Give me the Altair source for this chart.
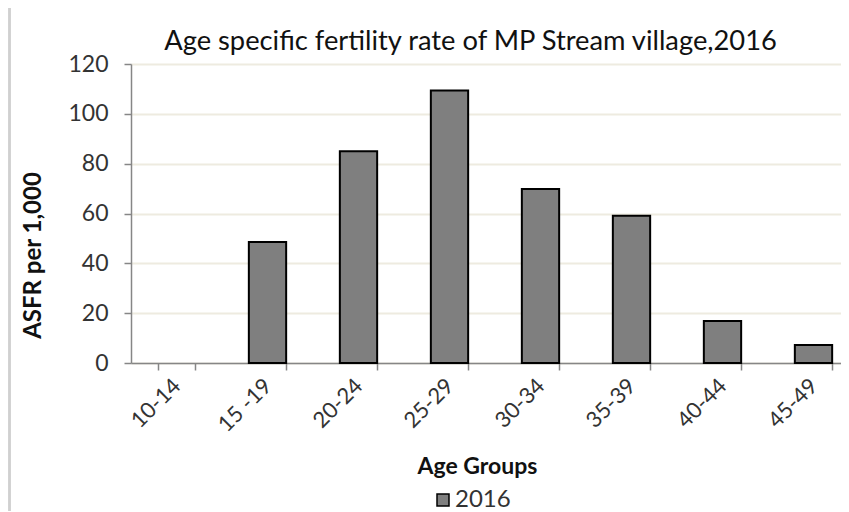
import altair as alt
import pandas as pd

age_groups = ["10-14", "15 -19", "20-24", "25-29", "30-34", "35-39", "40-44", "45-49"]
asfr = [0, 48.6, 85.0, 109.4, 69.8, 59.1, 16.9, 7.2]
series = ["2016"] * len(age_groups)
chart_title = "Age specific fertility rate of MP Stream village,2016"

df = pd.DataFrame({"age": age_groups, "asfr": asfr, "year": series})

FONT = "Lato"

bars = alt.Chart(df).transform_filter("datum.asfr > 0").mark_bar(
    stroke="black", strokeWidth=2
).encode(
    x=alt.X(
        "age:N",
        sort=age_groups,
        scale=alt.Scale(domain=age_groups, range=[0, 728], paddingInner=0.59, paddingOuter=0.295),
        axis=alt.Axis(
            title="Age Groups",
            titleFont=FONT,
            titleFontSize=23,
            titleFontWeight="bold",
            titleColor="#111111",
            titleX=346,
            titleY=103,
            titleAnchor="middle",
            titleAlign="center",
            titleBaseline="middle",
            labelAngle=-45,
            labelAlign="right",
            labelBaseline="middle",
            labelFont=FONT,
            labelFontSize=22,
            labelColor="#333333",
            labelPadding=12,
            tickBand="extent",
            tickSize=7,
            tickColor="#868686",
            tickWidth=1.5,
            domainColor="#868686",
            domainWidth=1.5,
            grid=False,
        ),
    ),
    y=alt.Y(
        "asfr:Q",
        scale=alt.Scale(domain=[0, 120], nice=False),
        axis=alt.Axis(
            title="ASFR per 1,000",
            titleFont=FONT,
            titleFontSize=24,
            titleFontWeight="bold",
            titleColor="#111111",
            titleAngle=270,
            titleX=-98,
            titleY=191,
            titleAlign="center",
            titleBaseline="middle",
            values=[0, 20, 40, 60, 80, 100, 120],
            labelFont=FONT,
            labelFontSize=23,
            labelColor="#333333",
            labelPadding=16,
            tickSize=7,
            tickColor="#868686",
            tickWidth=1.5,
            domainColor="#868686",
            domainWidth=1.5,
            gridColor="#EEEBE0",
            gridWidth=2,
        ),
    ),
    fill=alt.Fill(
        "year:N",
        scale=alt.Scale(range=["#7F7F7F"]),
        legend=alt.Legend(
            title=None,
            orient="none",
            legendX=300,
            legendY=424,
            padding=0,
            symbolType="square",
            symbolSize=144,
            symbolStrokeColor="black",
            symbolStrokeWidth=1.5,
            labelFont=FONT,
            labelFontSize=24,
            labelColor="#333333",
            labelOffset=0,
        ),
    ),
)

frame = alt.Chart(df).mark_rule(color="#D0D0D0", strokeWidth=1.5).encode(
    x=alt.value(-121.5), y=alt.value(-56), y2=alt.value(448)
)

title = alt.Chart(pd.DataFrame({"t": [chart_title]})).mark_text(
    font=FONT, fontSize=27.3, color="#111111", align="center", baseline="alphabetic"
).encode(text="t:N", x=alt.value(339.5), y=alt.value(-14))

chart = (
    alt.layer(frame, bars, title)
    .properties(
        width=710,
        height=299,
        autosize=alt.AutoSizeParams(type="none"),
        padding={"left": 123, "top": 56, "right": 0, "bottom": 148},
    )
    .configure_view(stroke=None)
)

chart.save("out.html", embed_options={"renderer": "svg", "actions": False})
